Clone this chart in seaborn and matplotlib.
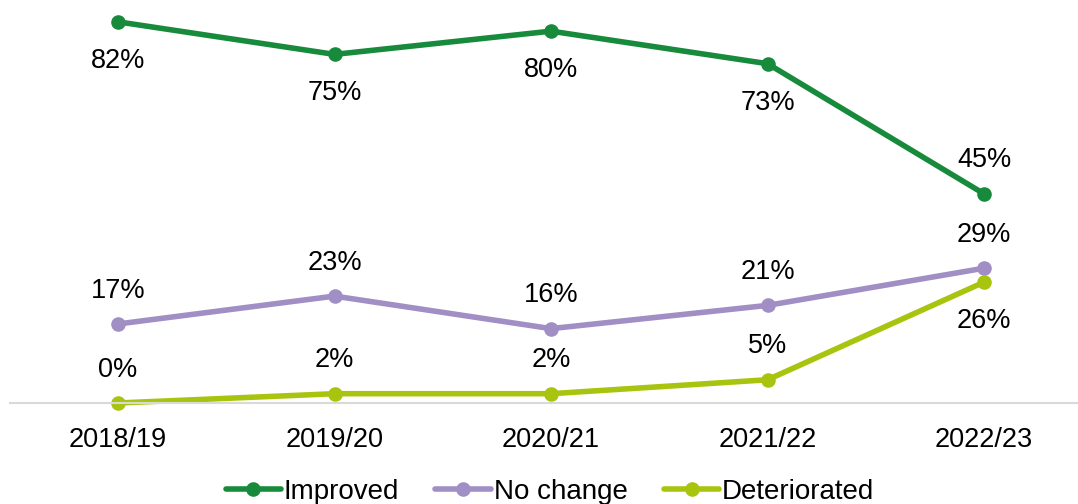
import matplotlib
matplotlib.use("Agg")
import matplotlib.pyplot as plt
import seaborn as sns
import pandas as pd

years = ["2018/19", "2019/20", "2020/21", "2021/22", "2022/23"]
improved = [82, 75, 80, 73, 45]
no_change = [17, 23, 16, 21, 29]
deteriorated = [0, 2, 2, 5, 26]

series_names = ["Improved", "No change", "Deteriorated"]
colors = ["#178a3c", "#a18ec4", "#a9c40f"]
# label placement per point: 1 = above, -1 = below
label_side = {
    "Improved": [-1, -1, -1, -1, 1],
    "No change": [1, 1, 1, 1, 1],
    "Deteriorated": [1, 1, 1, 1, -1],
}

df = pd.DataFrame({
    "year": years * 3,
    "value": improved + no_change + deteriorated,
    "series": sum([[s] * len(years) for s in series_names], []),
})

sns.set_theme(style="white")
plt.rcParams["font.family"] = ["Liberation Sans", "DejaVu Sans"]
plt.rcParams["text.color"] = "black"

fig = plt.figure(figsize=(10.78, 5.04), dpi=100)
ax = fig.add_axes([10 / 1078, 101 / 504, 1068 / 1078, 403 / 504])

sns.lineplot(data=df, x="year", y="value", hue="series", hue_order=series_names,
             palette=colors, marker="o", markersize=10.5, markeredgewidth=0,
             linewidth=4.0, ax=ax, clip_on=False, legend=True)

ax.set_xlim(-0.499, 4.434)
ax.set_ylim(0, 86.7)

for name, vals in zip(series_names, [improved, no_change, deteriorated]):
    for i, v in enumerate(vals):
        side = label_side[name][i]
        dy = 24 if side > 0 else -28
        ax.annotate(f"{v}%", (i, v), xytext=(0, dy), textcoords="offset points",
                    ha="center", va="center", fontsize=19.5, color="black")

for s in ["top", "right", "left"]:
    ax.spines[s].set_visible(False)
ax.spines["bottom"].set_color("#d9d9d9")
ax.spines["bottom"].set_linewidth(1.5)
ax.set_yticks([])
ax.set_xlabel("")
ax.set_ylabel("")
ax.tick_params(axis="x", length=0, pad=17, labelsize=19.5, labelcolor="black")

handles, labels = ax.get_legend_handles_labels()
ax.get_legend().remove()
leg = fig.legend(handles, labels, loc="center", bbox_to_anchor=(550 / 1078, 1 - 492 / 504),
                 ncol=3, frameon=False, fontsize=20, handlelength=2.0, handletextpad=0.1,
                 columnspacing=1.3)
for t in leg.get_texts():
    t.set_color("black")

fig.savefig("out.png", dpi=100)
